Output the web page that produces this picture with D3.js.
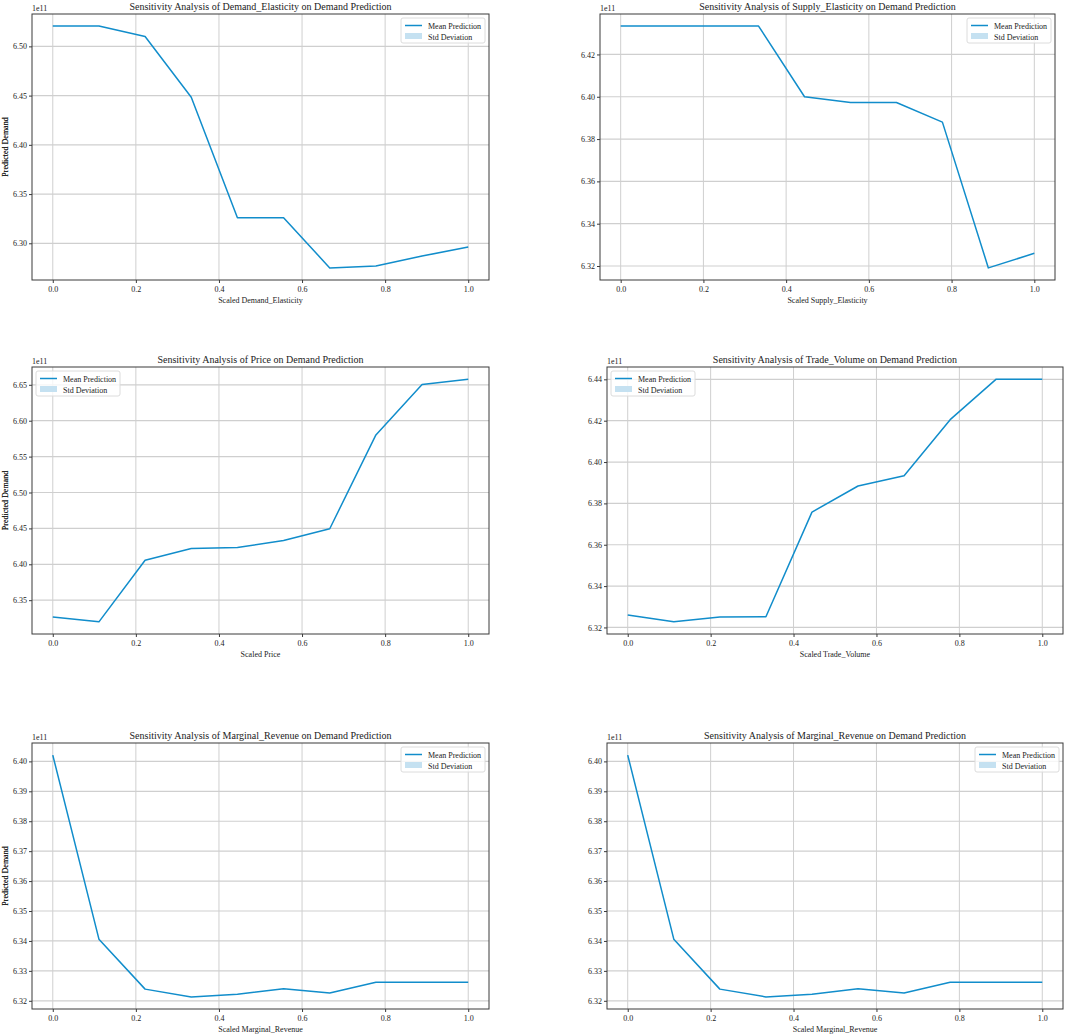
<!DOCTYPE html>
<html>
<head>
<meta charset="utf-8">
<script src="https://cdn.jsdelivr.net/npm/d3@7"></script>
<style>
  html, body { margin: 0; padding: 0; background: #ffffff; }
  svg { display: block; }
  text { font-family: "Liberation Serif", "DejaVu Serif", serif; fill: #222; }
</style>
</head>
<body>
<svg id="chart" width="1065" height="1035"></svg>
<script>
// ---------------- DATA (values in units of 1e11) ----------------
const xPoints = [0, 1/9, 2/9, 3/9, 4/9, 5/9, 6/9, 7/9, 8/9, 1];
const xTicks = [0.0, 0.2, 0.4, 0.6, 0.8, 1.0];

const features = ["Demand_Elasticity", "Supply_Elasticity", "Price", "Trade_Volume", "Marginal_Revenue", "Marginal_Revenue"];

const demandElasticityMean = [6.5206, 6.5206, 6.5101, 6.4483, 6.3260, 6.3260, 6.2750, 6.2770, 6.2870, 6.2963];
const supplyElasticityMean = [6.4334, 6.4334, 6.4334, 6.4334, 6.4000, 6.3973, 6.3973, 6.3880, 6.3191, 6.3260];
const priceMean            = [6.3267, 6.3198, 6.4056, 6.4219, 6.4233, 6.4330, 6.4495, 6.5802, 6.6505, 6.6579];
const tradeVolumeMean      = [6.3260, 6.3227, 6.3250, 6.3252, 6.3758, 6.3884, 6.3934, 6.4205, 6.4401, 6.4401];
const marginalRevenueMean  = [6.4021, 6.3406, 6.3239, 6.3213, 6.3222, 6.3240, 6.3226, 6.3262, 6.3262, 6.3262];

const yTicks1 = [6.30, 6.35, 6.40, 6.45, 6.50];
const yTicks2 = [6.32, 6.34, 6.36, 6.38, 6.40, 6.42];
const yTicks3 = [6.35, 6.40, 6.45, 6.50, 6.55, 6.60, 6.65];
const yTicks4 = [6.32, 6.34, 6.36, 6.38, 6.40, 6.42, 6.44];
const yTicks5 = [6.32, 6.33, 6.34, 6.35, 6.36, 6.37, 6.38, 6.39, 6.40];

const seriesList = [demandElasticityMean, supplyElasticityMean, priceMean, tradeVolumeMean, marginalRevenueMean, marginalRevenueMean];
const yTickList = [yTicks1, yTicks2, yTicks3, yTicks4, yTicks5, yTicks5];
const legendNames = ["Mean Prediction", "Std Deviation"];

// ---------------- LAYOUT / STYLE ----------------
const layout = [
  { left: 32,  right: 489,  top: 14,  bottom: 280, legend: "right" },
  { left: 600, right: 1055, top: 14,  bottom: 280, legend: "right" },
  { left: 32,  right: 489,  top: 367, bottom: 634, legend: "left" },
  { left: 607, right: 1063, top: 367, bottom: 634, legend: "left" },
  { left: 32,  right: 489,  top: 743, bottom: 1009, legend: "right" },
  { left: 607, right: 1063, top: 743, bottom: 1009, legend: "right" }
];
const lineColor = "#118dcb";
const bandColor = "#c5e1f1";
const gridColor = "#cfcfcf";
const frameColor = "#3a3a3a";

const svg = d3.select("#chart");

function drawPanel(i) {
  const L = layout[i];
  const vals = seriesList[i];
  const w = L.right - L.left, h = L.bottom - L.top;
  const g = svg.append("g").attr("transform", `translate(${L.left},${L.top})`);

  const [mn, mx] = d3.extent(vals);
  const pad = (mx - mn) * 0.05;
  const y = d3.scaleLinear().domain([mn - pad, mx + pad]).range([h, 0]);
  const x = d3.scaleLinear().domain([-0.05, 1.05]).range([0, w]);

  // grid
  g.append("g").selectAll("line.gx").data(xTicks).join("line")
    .attr("x1", d => x(d)).attr("x2", d => x(d)).attr("y1", 0).attr("y2", h)
    .attr("stroke", gridColor).attr("stroke-width", 1);
  g.append("g").selectAll("line.gy").data(yTickList[i]).join("line")
    .attr("y1", d => y(d)).attr("y2", d => y(d)).attr("x1", 0).attr("x2", w)
    .attr("stroke", gridColor).attr("stroke-width", 1.2);

  // axes
  const xAxis = d3.axisBottom(x).tickValues(xTicks).tickFormat(d3.format(".1f")).tickSize(3).tickPadding(3);
  const yAxis = d3.axisLeft(y).tickValues(yTickList[i]).tickFormat(d3.format(".2f")).tickSize(3).tickPadding(2);
  const gx = g.append("g").attr("transform", `translate(0,${h})`).call(xAxis);
  const gy = g.append("g").call(yAxis);
  [gx, gy].forEach(a => {
    a.select(".domain").remove();
    a.selectAll(".tick line").attr("stroke", frameColor);
    a.selectAll(".tick text").style("font-family", "'Liberation Serif', serif").style("font-size", "8px").attr("fill", "#222");
  });

  // line
  const line = d3.line().x((d, k) => x(xPoints[k])).y(d => y(d));
  g.append("path").datum(vals).attr("d", line)
    .attr("fill", "none").attr("stroke", lineColor).attr("stroke-width", 1.5)
    .attr("stroke-linejoin", "round");

  // frame
  g.append("rect").attr("x", 0).attr("y", 0).attr("width", w).attr("height", h)
    .attr("fill", "none").attr("stroke", frameColor).attr("stroke-width", 1);

  // title
  g.append("text").attr("x", w / 2).attr("y", -4).attr("text-anchor", "middle")
    .style("font-size", "10px").text(`Sensitivity Analysis of ${features[i]} on Demand Prediction`);
  // offset text
  g.append("text").attr("x", 0).attr("y", -3).style("font-size", "8px").text("1e11");
  // x label
  g.append("text").attr("x", w / 2).attr("y", h + 23).attr("text-anchor", "middle")
    .style("font-size", "8px").text(`Scaled ${features[i]}`);
  // y label
  g.append("text").attr("transform", `translate(${-L.left + 8},${h / 2}) rotate(-90)`)
    .attr("text-anchor", "middle").style("font-size", "8px").text("Predicted Demand");

  // legend
  const lw = 84, lh = 25;
  const lx = L.legend === "right" ? w - lw - 4 : 4;
  const lg = g.append("g").attr("transform", `translate(${lx},4)`);
  lg.append("rect").attr("width", lw).attr("height", lh).attr("rx", 2)
    .attr("fill", "#fff").attr("fill-opacity", 0.8).attr("stroke", "#dcdcdc");
  lg.append("line").attr("x1", 4).attr("x2", 21).attr("y1", 7.5).attr("y2", 7.5)
    .attr("stroke", lineColor).attr("stroke-width", 1.5);
  lg.append("rect").attr("x", 4).attr("y", 15).attr("width", 17).attr("height", 6).attr("fill", bandColor);
  lg.append("text").attr("x", 27).attr("y", 10.5).style("font-size", "8px").text(legendNames[0]);
  lg.append("text").attr("x", 27).attr("y", 21.5).style("font-size", "8px").text(legendNames[1]);
}

for (let i = 0; i < 6; i++) drawPanel(i);
</script>
</body>
</html>
